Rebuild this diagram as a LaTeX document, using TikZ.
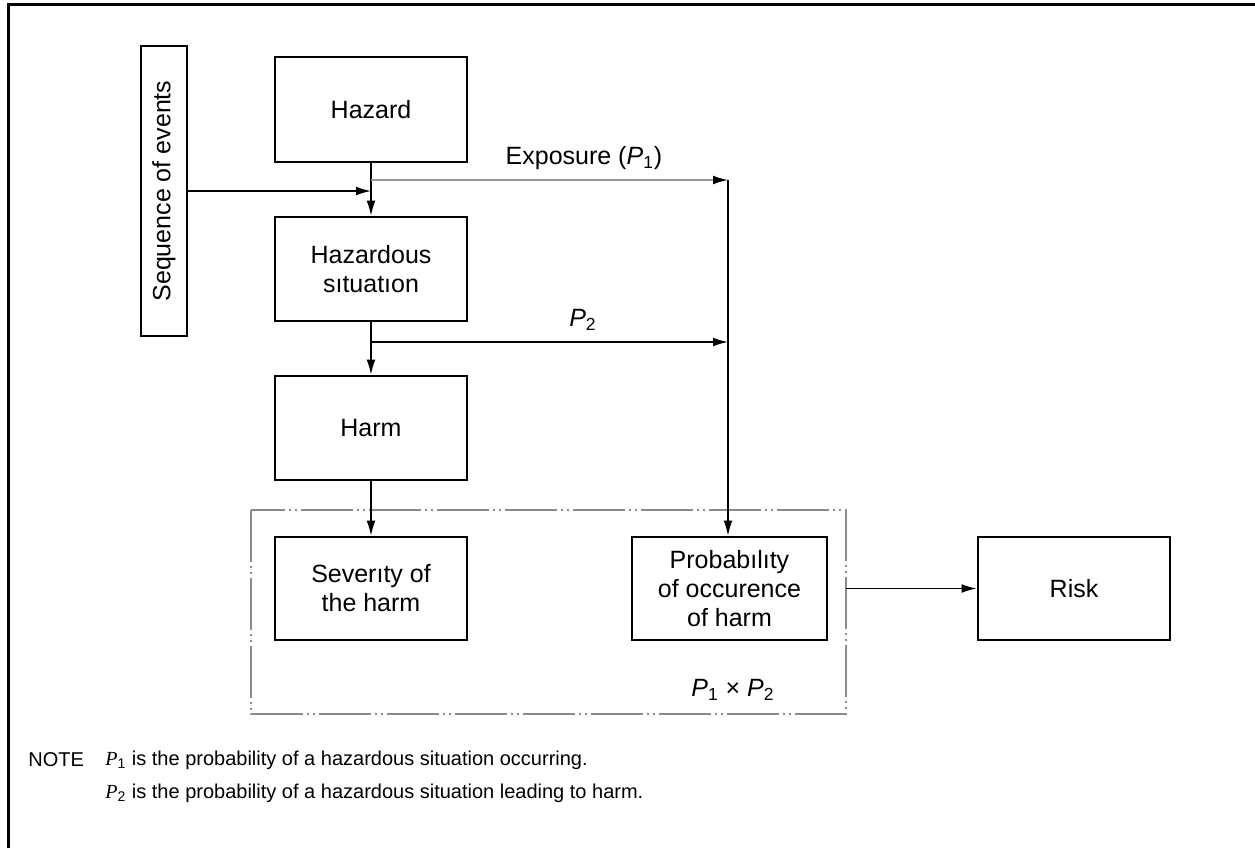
\documentclass[tikz,border=0pt]{standalone}
\usepackage{fontspec}
\setmainfont{Liberation Sans}
\newfontfamily\notserif{Liberation Serif}
\usetikzlibrary{arrows.meta}
\begin{document}
\begin{tikzpicture}[x=0.5pt,y=-0.5pt,
  box/.style={draw, line width=1.4pt, align=center, inner sep=0pt,
    font=\fontsize{12.5}{14.5}\selectfont},
  conn/.style={line width=0.7pt, -{Latex[length=7.5pt,width=4.4pt]}},
  lbl/.style={font=\fontsize{12.5}{14.5}\selectfont, inner sep=0pt},
  notetext/.style={font=\fontsize{10}{12}\selectfont, anchor=west, inner sep=0pt},
  dashdot/.style={draw=black!45, line width=0.7pt,
    dash pattern=on 26pt off 2pt on 1pt off 2pt on 1pt off 2pt}]
\useasboundingbox (0,0) rectangle (1255,848);
\draw[line width=1.5pt] (8,848) -- (8,4) -- (1255,4);

% boxes
\node[box, rotate=90, minimum width=145pt, minimum height=23pt] (seq) at (164,191) {Sequence of events};
\node[box, minimum width=96pt, minimum height=52.5pt] (hazard) at (371,109.5) {Hazard};
\node[box, minimum width=96pt, minimum height=52pt] (hsit) at (371,269) {Hazardous\\sıtuatıon};
\node[box, minimum width=96pt, minimum height=52pt] (harm) at (371,428) {Harm};
\node[box, minimum width=96pt, minimum height=51.5pt] (sev) at (371,588.5) {Severıty of\\the harm};
\node[box, minimum width=97.5pt, minimum height=51.5pt] (prob) at (729.5,588.5) {Probabılıty\\of occurence\\of harm};
\node[box, minimum width=96pt, minimum height=51.5pt] (risk) at (1074,588.5) {Risk};

% dash-dot frame
\draw[dashdot] (251,510) rectangle (846,714);

% junction points
\coordinate (j1) at (371,191);
\coordinate (e0) at (371,180);
\coordinate (e1) at (728,180);
\coordinate (p0) at (371,342);
\coordinate (p1) at (728,342);
\coordinate (d1) at (846,588.5);

% connectors
\draw[conn] (hazard) -- (hsit);
\draw[conn] (seq) -- (j1);
\draw[line width=0.7pt, draw=black!40, -{Latex[length=7.5pt,width=4.4pt,color=black]}] (e0) -- (e1);
\draw[conn] (e1) -- (e1 |- prob.north);
\draw[conn] (hsit) -- (harm);
\draw[conn] (p0) -- (p1);
\draw[conn] (harm) -- (sev);
\draw[conn] (d1) -- (risk);

% labels
\node[lbl] (explbl) at (584,158) {Exposure (\textit{P}\textsubscript{1})};
\node[lbl] (p2lbl) at (583,320) {\textit{P}\textsubscript{2}};
\node[lbl] (p1p2) at (733,690) {\textit{P}\textsubscript{1} × \textit{P}\textsubscript{2}};

% note
\node[notetext] (note) at (28,760) {NOTE};
\node[notetext] (n1) at (105,760) {{\notserif\itshape P}\textsubscript{1} is the probability of a hazardous situation occurring.};
\node[notetext] (n2) at (105,793) {{\notserif\itshape P}\textsubscript{2} is the probability of a hazardous situation leading to harm.};
\end{tikzpicture}
\end{document}
